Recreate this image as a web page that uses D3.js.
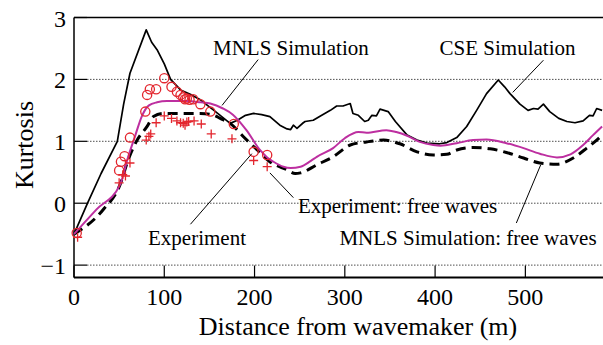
<!DOCTYPE html>
<html>
<head>
<meta charset="utf-8">
<script src="https://cdn.jsdelivr.net/npm/d3@7"></script>
<style>
  html, body { margin: 0; padding: 0; background: #fff; }
  svg text { font-family: "Liberation Serif", "Times New Roman", Times, serif; }
</style>
</head>
<body>
<svg id="chart" width="603" height="345"></svg>
<script>
// === Data (distance m, kurtosis) ===
const cseSim = [
  [0,-0.5],[15,0],[30,0.48],[48,1.0],[55,1.6],[62,2.1],[80,2.8],[86,2.6],[92,2.48],[100,2.25],
  [107,2.0],[118,1.83],[130,1.75],[140,1.67],[155,1.5],[173,1.29],[181,1.34],[190,1.42],[199,1.45],
  [208,1.43],[217,1.40],[228,1.26],[236,1.2],[240,1.19],[243,1.26],[247,1.21],[254,1.30],[256,1.32],
  [265,1.34],[273,1.41],[284,1.50],[291,1.57],[298,1.57],[306,1.61],[309,1.45],[315,1.42],[322,1.32],
  [326,1.34],[330,1.42],[335,1.41],[339,1.52],[348,1.48],[356,1.32],[369,1.10],[380,1.02],[391,0.97],
  [405,0.96],[413,0.98],[424,1.06],[435,1.24],[446,1.50],[457,1.77],[470,1.99],[477,1.88],[483,1.77],
  [494,1.60],[503,1.50],[509,1.53],[514,1.52],[520,1.60],[527,1.48],[537,1.37],[546,1.32],[555,1.30],
  [564,1.33],[571,1.42],[575,1.41],[579,1.53],[585,1.50]
];
const mnlsSim = [
  [0,-0.5],[25,-0.1],[51,0.30],[60,0.75],[68,1.1],[75,1.40],[83,1.58],[92,1.63],[103,1.65],[125,1.65],
  [140,1.63],[151,1.61],[165,1.53],[176,1.43],[191,1.18],[206,0.86],[214,0.74],[221,0.67],[232,0.59],
  [240,0.57],[251,0.59],[262,0.68],[269,0.75],[287,0.89],[300,1.05],[315,1.15],[324,1.14],[346,1.18],
  [357,1.15],[369,1.09],[383,0.99],[398,0.94],[406,0.93],[424,0.97],[442,1.02],[457,1.03],[479,0.97],
  [498,0.89],[516,0.80],[535,0.74],[550,0.79],[564,0.94],[575,1.10],[585,1.24]
];
const mnlsFree = [
  [0,-0.5],[32,-0.11],[51,0.3],[60,0.70],[70,1.02],[81,1.24],[88,1.40],[99,1.45],[140,1.45],[155,1.42],
  [162,1.37],[173,1.29],[188,1.07],[203,0.86],[217,0.67],[236,0.54],[245,0.48],[251,0.49],[269,0.62],
  [287,0.75],[306,0.94],[324,0.99],[343,1.02],[361,0.96],[380,0.83],[398,0.78],[413,0.79],[424,0.86],
  [442,0.90],[461,0.88],[479,0.82],[498,0.73],[516,0.65],[535,0.63],[553,0.73],[568,0.89],[579,1.02],
  [585,1.10]
];
const expTotal = [
  [3,-0.48],[50,0.53],[52,0.67],[56,0.76],[62,1.06],[79,1.48],[81,1.75],[84,1.84],[91,1.84],[100,2.02],
  [108,1.88],[114,1.80],[118,1.75],[121,1.71],[123,1.68],[125,1.69],[128,1.67],[132,1.68],[140,1.60],
  [151,1.48],[177,1.28],[199,0.83],[214,0.78]
];
const expFree = [
  [4,-0.55],[50,0.33],[54,0.46],[57,0.44],[62,0.65],[80,1.02],[83,1.08],[85,1.12],[91,1.30],[100,1.41],
  [108,1.37],[114,1.33],[118,1.30],[121,1.29],[123,1.26],[125,1.31],[127,1.32],[133,1.33],[141,1.28],
  [152,1.12],[175,1.04],[199,0.69],[214,0.59]
];
const xTicks = [0, 100, 200, 300, 400, 500];
const yTicks = [-1, 0, 1, 2, 3];

// annotations: text start + leader line (in data units)
const labels = [
  { text: 'MNLS Simulation', at: [154, 2.40], line: [[204, 2.32], [164, 1.58]] },
  { text: 'CSE Simulation', at: [405, 2.40], line: [[520, 2.31], [486, 1.79]] },
  { text: 'Experiment', at: [82, -0.67], line: [[129, -0.34], [197, 0.8]] },
  { text: 'Experiment: free waves', at: [248, -0.16], line: [[217, 0.49], [243, 0.09]] },
  { text: 'MNLS Simulation: free waves', at: [294, -0.67], line: [[490, -0.32], [517, 0.62]] }
];

// === Layout ===
const W = 603, H = 345;
const M = { left: 74, top: 17.5, right: 0, bottom: 67.5 };
const RED = '#e3262e';
const MAGENTA = '#bd2fa0';
const FONT = '"Liberation Serif", "Times New Roman", serif';

const svg = d3.select('#chart');

const x = d3.scaleLinear().domain([0, 586]).range([M.left, W - M.right]);
const y = d3.scaleLinear().domain([-1.2, 3]).range([H - M.bottom, M.top]);

// --- grid (dotted) + short solid ticks on the left ---
svg.append('g').selectAll('line')
  .data(yTicks.filter(d => d < 3))
  .join('line')
  .attr('x1', M.left + 13).attr('x2', W)
  .attr('y1', d => y(d)).attr('y2', d => y(d))
  .attr('stroke', '#222').attr('stroke-width', 0.8)
  .attr('stroke-dasharray', '1.5,1.5');

svg.append('g').selectAll('line')
  .data(yTicks)
  .join('line')
  .attr('x1', M.left).attr('x2', M.left + 13)
  .attr('y1', d => y(d)).attr('y2', d => y(d))
  .attr('stroke', '#000').attr('stroke-width', 1.2);

// x ticks point inward
svg.append('g').selectAll('line')
  .data(xTicks)
  .join('line')
  .attr('x1', d => x(d)).attr('x2', d => x(d))
  .attr('y1', y(-1.2)).attr('y2', y(-1.2) - 12)
  .attr('stroke', '#000').attr('stroke-width', 1.2);

// --- frame ---
svg.append('line')
  .attr('x1', M.left).attr('x2', W).attr('y1', M.top).attr('y2', M.top)
  .attr('stroke', '#000').attr('stroke-width', 1.5);
svg.append('line')
  .attr('x1', M.left).attr('x2', W).attr('y1', y(-1.2)).attr('y2', y(-1.2))
  .attr('stroke', '#000').attr('stroke-width', 2);
svg.append('line')
  .attr('x1', M.left).attr('x2', M.left).attr('y1', M.top).attr('y2', y(-1.2))
  .attr('stroke', '#000').attr('stroke-width', 1.5);

// --- tick labels ---
svg.append('g').selectAll('text')
  .data(yTicks)
  .join('text')
  .attr('x', 66).attr('y', d => y(d) + 9)
  .attr('text-anchor', 'end')
  .attr('font-family', FONT)
  .attr('font-size', 24)
  .text(d => d < 0 ? '\u2212' + Math.abs(d) : d);

svg.append('g').selectAll('text')
  .data(xTicks)
  .join('text')
  .attr('x', d => x(d)).attr('y', 305)
  .attr('text-anchor', 'middle')
  .attr('font-family', FONT)
  .attr('font-size', 24)
  .text(d => d);

// --- axis titles ---
svg.append('text')
  .attr('transform', 'translate(33,145) rotate(-90)')
  .attr('text-anchor', 'middle')
  .attr('font-family', FONT)
  .attr('font-size', 26)
  .text('Kurtosis');

svg.append('text')
  .attr('x', 358).attr('y', 335)
  .attr('text-anchor', 'middle')
  .attr('font-family', FONT)
  .attr('font-size', 26)
  .text('Distance from wavemaker (m)');

// --- curves ---
const lineLin = d3.line().x(d => x(d[0])).y(d => y(d[1]));
const lineSmooth = d3.line().x(d => x(d[0])).y(d => y(d[1])).curve(d3.curveMonotoneX);

svg.append('path').datum(cseSim)
  .attr('d', lineLin)
  .attr('fill', 'none').attr('stroke', '#000').attr('stroke-width', 1.7)
  .attr('stroke-linejoin', 'round');

svg.append('path').datum(mnlsFree)
  .attr('d', lineSmooth)
  .attr('fill', 'none').attr('stroke', '#000').attr('stroke-width', 3)
  .attr('stroke-dasharray', '10,6');

svg.append('path').datum(mnlsSim)
  .attr('d', lineSmooth)
  .attr('fill', 'none').attr('stroke', MAGENTA).attr('stroke-width', 2);

// --- experiment markers ---
svg.append('g').selectAll('circle')
  .data(expTotal)
  .join('circle')
  .attr('cx', d => x(d[0])).attr('cy', d => y(d[1]))
  .attr('r', 4.6)
  .attr('fill', 'none').attr('stroke', RED).attr('stroke-width', 1.3);

svg.append('g').selectAll('path')
  .data(expFree)
  .join('path')
  .attr('transform', d => `translate(${x(d[0])},${y(d[1])})`)
  .attr('d', 'M-4.5,0H4.5M0,-4.5V4.5')
  .attr('stroke', RED).attr('stroke-width', 1.3);

// --- annotations ---
const ann = svg.append('g');
labels.forEach(l => {
  ann.append('line')
    .attr('x1', x(l.line[0][0])).attr('y1', y(l.line[0][1]))
    .attr('x2', x(l.line[1][0])).attr('y2', y(l.line[1][1]))
    .attr('stroke', '#000').attr('stroke-width', 1);
  ann.append('text')
    .attr('x', x(l.at[0])).attr('y', y(l.at[1]))
    .attr('font-family', FONT)
    .attr('font-size', 21)
    .text(l.text);
});
</script>
</body>
</html>
